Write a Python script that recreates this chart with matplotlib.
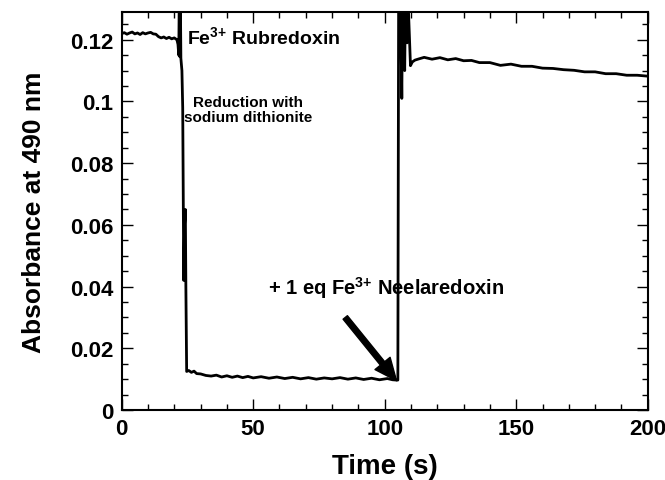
import matplotlib.pyplot as plt
from matplotlib.ticker import MultipleLocator, FuncFormatter

plt.rcParams['font.family'] = ['Liberation Sans', 'DejaVu Sans']
plt.rcParams['font.weight'] = 'bold'
plt.rcParams['mathtext.fontset'] = 'custom'
plt.rcParams['mathtext.rm'] = 'Liberation Sans:bold'
plt.rcParams['mathtext.it'] = 'Liberation Sans:bold'
plt.rcParams['mathtext.bf'] = 'Liberation Sans:bold'

# time (s) and absorbance at 490 nm
time = [0, 1, 2, 3, 4, 5, 6, 7, 8, 9, 10, 11, 12, 13, 14, 15, 16, 17, 18, 19, 20,
        21.0, 21.4, 21.7, 21.9, 22.1, 22.3, 22.5, 22.9, 23.2, 23.4, 23.6, 23.9, 24.2, 24.4, 24.7,
        25.5, 26.5, 27.5, 28.5, 30, 32, 34, 36, 38, 40, 42, 44, 46, 48, 50, 53, 56, 59, 62,
        65, 68, 71, 74, 77, 80, 83, 86, 89, 92, 95, 98, 101, 103, 104.6,
        105.0, 105.3, 106.0, 106.5, 106.8, 107.6, 107.9, 108.5, 108.8, 109.8, 110.5, 111.5,
        113, 115, 118, 121, 124, 127, 130, 133, 136, 140, 144, 148, 152, 156, 160, 164,
        168, 172, 176, 180, 184, 188, 192, 196, 200]
absorb = [0.1220, 0.1223, 0.1218, 0.1222, 0.1225, 0.1219, 0.1222, 0.1217, 0.1223, 0.1219,
          0.1222, 0.1224, 0.1219, 0.1218, 0.1210, 0.1206, 0.1209, 0.1204, 0.1208, 0.1203, 0.1206,
          0.1200, 0.1185, 0.1150, 0.1350, 0.1145, 0.1350, 0.1140, 0.1100, 0.0980, 0.0700,
          0.0420, 0.0600, 0.0650, 0.0400, 0.0125,
          0.0128, 0.0122, 0.0126, 0.0118, 0.0117, 0.0112, 0.0110, 0.0113, 0.0107, 0.0111,
          0.0106, 0.0110, 0.0105, 0.0109, 0.0104, 0.0108, 0.0103, 0.0107, 0.0102,
          0.0106, 0.0101, 0.0105, 0.0100, 0.0104, 0.0101, 0.0105, 0.0100, 0.0104, 0.0099,
          0.0103, 0.0098, 0.0102, 0.0098, 0.0097,
          0.0097, 0.1350, 0.1350, 0.1010, 0.1350, 0.1100, 0.1350, 0.1190, 0.1350, 0.1116,
          0.1128, 0.1134,
          0.1138, 0.1143, 0.1137, 0.1142, 0.1135, 0.1139, 0.1132, 0.1133, 0.1126, 0.1126,
          0.1117, 0.1121, 0.1114, 0.1114, 0.1108, 0.1107, 0.1103, 0.1101, 0.1096, 0.1096,
          0.1090, 0.1090, 0.1085, 0.1085, 0.1082]

fig = plt.figure(figsize=(6.65, 4.81), dpi=100)
ax = fig.add_axes([0.183, 0.1455, 0.791, 0.8275])

ax.plot(time, absorb, color='black', lw=2)

ax.set_xlim(0, 200)
ax.set_ylim(0, 0.129)
ax.xaxis.set_major_locator(MultipleLocator(50))
ax.xaxis.set_minor_locator(MultipleLocator(10))
ax.yaxis.set_major_locator(MultipleLocator(0.02))
ax.yaxis.set_minor_locator(MultipleLocator(0.005))
ax.yaxis.set_major_formatter(FuncFormatter(lambda v, p: '%g' % round(v, 3)))
ax.tick_params(which='both', direction='in', top=True, right=True, width=1)
ax.tick_params(which='major', length=8, labelsize=16, pad=6)
ax.tick_params(which='minor', length=4)
for s in ax.spines.values():
    s.set_linewidth(1.5)

ax.set_xlabel('Time (s)', fontsize=20, fontweight='bold', labelpad=10)
ax.set_ylabel('Absorbance at 490 nm', fontsize=19, fontweight='bold', labelpad=17)

ax.text(24.8, 0.1212, r'Fe$^{3{+}}$ Rubredoxin', fontsize=14, fontweight='bold', va='center')
ax.text(48, 0.0975, 'Reduction with\nsodium dithionite', fontsize=11, fontweight='bold',
        ha='center', va='center', linespacing=1.1)
ax.text(55.5, 0.0355, r'+ 1 eq Fe$^{3{+}}$ Neelaredoxin', fontsize=14.5, fontweight='bold',
        va='bottom')
ax.annotate('', xy=(104.5, 0.0095), xytext=(85, 0.0300),
            arrowprops=dict(facecolor='black', edgecolor='black', width=4, headwidth=14,
                            headlength=16, shrink=0))

plt.savefig('out.png', dpi=100)
